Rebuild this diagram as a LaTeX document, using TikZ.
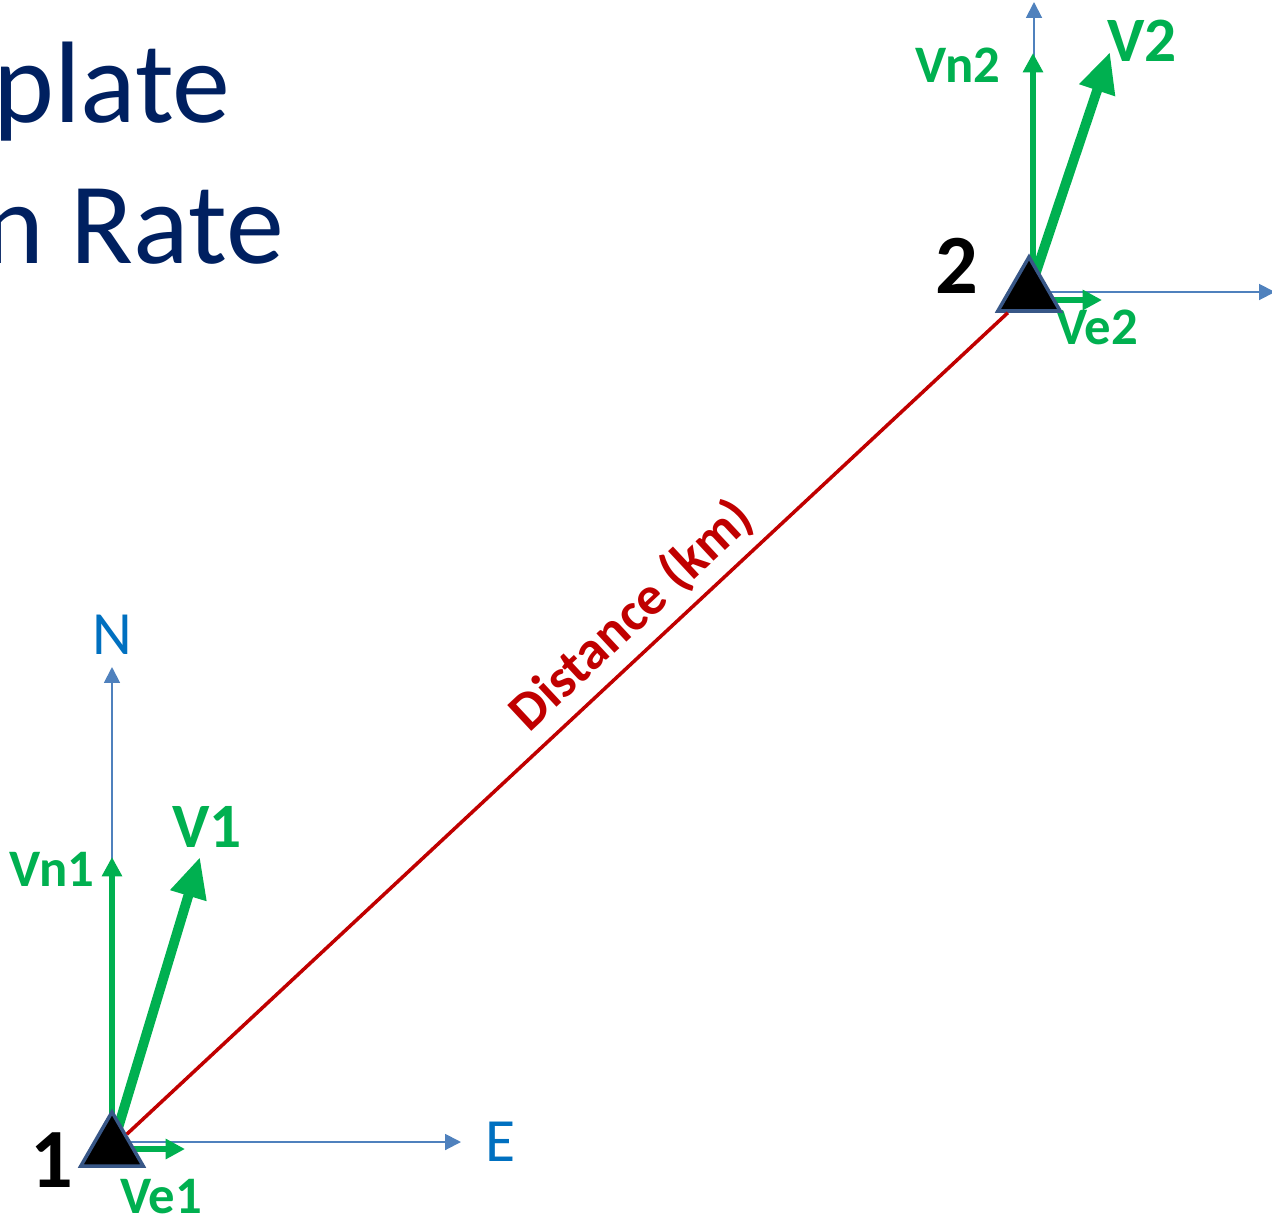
\documentclass[tikz,border=0pt]{standalone}
\usepackage{fontspec}
\setmainfont{Carlito}
\usetikzlibrary{arrows.meta,positioning,shapes.geometric}
\definecolor{vgreen}{RGB}{0,176,80}
\definecolor{axisblue}{RGB}{79,129,189}
\definecolor{labelblue}{RGB}{0,112,192}
\definecolor{distred}{RGB}{192,0,0}
\definecolor{titlenavy}{RGB}{0,32,96}
\definecolor{stnedge}{RGB}{56,87,135}

\begin{document}
\begin{tikzpicture}[x=0.02cm, y=-0.02cm,
        station/.style={regular polygon, regular polygon sides=3, fill=black,
                        draw=stnedge, line width=2pt, minimum size=1.44cm, inner sep=0pt},
        axisarrow/.style={-{Triangle[length=9pt,width=9pt]}, axisblue, line width=1.1pt},
        comp/.style={-{Triangle[length=11pt,width=11pt]}, vgreen, line width=3.2pt},
        vel/.style={-{Triangle[length=23pt,width=20pt]}, vgreen, line width=5.6pt},
        complab/.style={font=\fontsize{30}{30}\selectfont\bfseries, text=vgreen, inner sep=0pt},
        vellab/.style={font=\fontsize{36}{36}\selectfont\bfseries, text=vgreen, inner sep=0pt},
        stnlab/.style={font=\fontsize{48}{48}\selectfont\bfseries, inner sep=0pt},
        dirlab/.style={font=\fontsize{35}{35}\selectfont, text=labelblue, inner sep=0pt},
        titletext/.style={font=\fontsize{66}{66}\selectfont, text=titlenavy,
                          anchor=base east, inner sep=0pt}
    ]
    \useasboundingbox (0,0) rectangle (1272,1221);

    %% ── Title (cut off at the left edge) ────────────────────────────────────
    \node[titletext] (title1) at (231,122) {plate};
    \node[titletext] (title2) at (284,263) {n Rate};

    %% ── Station centres and arrow tips ──────────────────────────────────────
    \coordinate (c1) at (112,1148);
    \coordinate (c2) at (1029,293);

    \coordinate (n1tip)  at (112,667);
    \coordinate (e1tip)  at (461,1142);
    \coordinate (vn1tip) at (112,857);
    \coordinate (ve1tip) at (185,1149);
    \coordinate (v1tip)  at (200,857);

    \coordinate (n2tip)  at (1034,2);
    \coordinate (e2tip)  at (1275,292);
    \coordinate (vn2tip) at (1033,53);
    \coordinate (ve2tip) at (1102,300);
    \coordinate (v2tip)  at (1110,52);

    %% ── Station 1 axes and velocity ─────────────────────────────────────────
    \draw[axisarrow] (c1) -- (n1tip);
    \draw[axisarrow] (c1 |- e1tip) -- (e1tip);
    \draw[comp] (c1) -- (vn1tip);
    \draw[comp] (c1 |- ve1tip) -- (ve1tip);
    \draw[vel] (c1) -- (v1tip);

    \node[dirlab, above=6.8pt of n1tip] (nlab) {N};
    \node[dirlab, right=14pt of e1tip] (elab) {E};
    \node[complab] (vn1lab) at (52,869) {Vn1};
    \node[complab] (ve1lab) at (161,1197) {Ve1};
    \node[vellab] (v1lab) at (207,827) {V1};

    %% ── Station 2 axes and velocity ─────────────────────────────────────────
    \draw[axisarrow] (c2 -| n2tip) -- (n2tip);
    \draw[axisarrow] (c2 |- e2tip) -- (e2tip);
    \draw[comp] (c2 -| vn2tip) -- (vn2tip);
    \draw[comp] (c2 |- ve2tip) -- (ve2tip);
    \draw[vel] (c2) -- (v2tip);

    \node[complab] (vn2lab) at (958,65) {Vn2};
    \node[complab] (ve2lab) at (1097,327) {Ve2};
    \node[vellab] (v2lab) at (1142,41) {V2};

    %% ── Stations ────────────────────────────────────────────────────────────
    \node[station] (s1) at (c1) {};
    \node[station] (s2) at (c2) {};
    \node[stnlab] (s1lab) at (52,1160) {1};
    \node[stnlab] (s2lab) at (957,266) {2};

    %% Baseline between the stations
    \draw[distred, line width=2pt] (s1) --
        node[pos=0.6, sloped, above, inner sep=5pt,
             font=\fontsize{31}{31}\selectfont\bfseries, text=distred] {Distance (km)}
        (s2);

\end{tikzpicture}
\end{document}
